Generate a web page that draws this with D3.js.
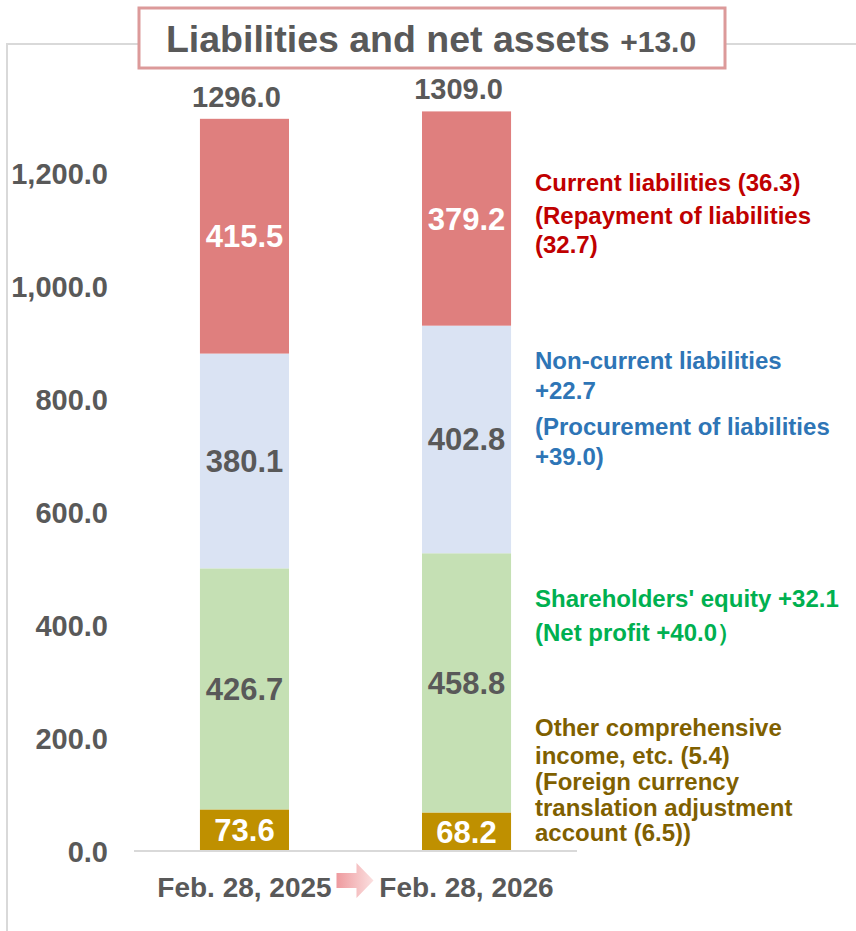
<!DOCTYPE html>
<html>
<head>
<meta charset="utf-8">
<script src="https://cdn.jsdelivr.net/npm/d3@7"></script>
<style>
  html, body { margin: 0; padding: 0; background: #ffffff; }
  svg text { font-family: "Liberation Sans", Arial, sans-serif; font-weight: bold; }
</style>
</head>
<body>
<svg id="chart" width="856" height="931"></svg>
<script>
// ---------------- data ----------------
const categories = ["Feb. 28, 2025", "Feb. 28, 2026"];
const seriesNames = ["Other comprehensive income", "Shareholders' equity", "Non-current liabilities", "Current liabilities"];
const otherCompIncome = [73.6, 68.2];
const shareholdersEquity = [426.7, 458.8];
const nonCurrentLiabilities = [380.1, 402.8];
const currentLiabilities = [415.5, 379.2];
const totals = [1296.0, 1309.0];
const yTicks = [0, 200, 400, 600, 800, 1000, 1200];
const titleMain = "Liabilities and net assets ";
const titleDelta = "+13.0";
const noteCurrent = ["Current liabilities (36.3)", "(Repayment of liabilities", "(32.7)"];
const noteNonCurrent = ["Non-current liabilities", "+22.7", "(Procurement of liabilities", "+39.0)"];
const noteEquity = ["Shareholders' equity +32.1", "(Net profit +40.0\uFF09"];
const noteOther = ["Other comprehensive", "income, etc. (5.4)", "(Foreign currency", "translation adjustment", "account (6.5))"];

// ---------------- layout / style ----------------
const svg = d3.select("#chart");
const colors = ["#bf9000", "#c5e0b4", "#dae3f3", "#df7f7e"];
const labelColors = ["#ffffff", "#595959", "#595959", "#ffffff"];
const grey = "#595959";

const y = d3.scaleLinear().domain([0, 1300]).range([851, 116.5]);
const x = d3.scaleBand().domain(categories).range([134, 577]).paddingInner(0.599).paddingOuter(0.297);

// outer frame (light grey)
svg.append("path")
  .attr("d", "M7,931 L7,44 L856,44")
  .attr("fill", "none").attr("stroke", "#d9d9d9").attr("stroke-width", 2);

// title box
svg.append("rect")
  .attr("x", 139).attr("y", 8).attr("width", 586).attr("height", 60)
  .attr("fill", "#ffffff").attr("stroke", "#dc9a9a").attr("stroke-width", 3);
const title = svg.append("text")
  .attr("x", 431).attr("y", 52).attr("text-anchor", "middle").attr("fill", grey);
title.append("tspan").attr("font-size", 37.5).text(titleMain);
title.append("tspan").attr("font-size", 30).text(titleDelta);

// stacked data
const rows = categories.map((c, i) => ({
  cat: c,
  [seriesNames[0]]: otherCompIncome[i],
  [seriesNames[1]]: shareholdersEquity[i],
  [seriesNames[2]]: nonCurrentLiabilities[i],
  [seriesNames[3]]: currentLiabilities[i]
}));
const stacked = d3.stack().keys(seriesNames)(rows);

const layers = svg.append("g").selectAll("g").data(stacked).join("g")
  .attr("fill", (d, i) => colors[i]);
layers.selectAll("rect").data(d => d).join("rect")
  .attr("x", d => x(d.data.cat))
  .attr("width", x.bandwidth())
  .attr("y", d => y(d[1]))
  .attr("height", d => y(d[0]) - y(d[1]));

// segment labels
stacked.forEach((layer, li) => {
  svg.append("g").selectAll("text").data(layer).join("text")
    .attr("x", d => x(d.data.cat) + x.bandwidth() / 2)
    .attr("y", d => (y(d[0]) + y(d[1])) / 2 + 11)
    .attr("text-anchor", "middle")
    .attr("font-size", 31)
    .attr("fill", labelColors[li])
    .text(d => d3.format(".1f")(d.data[layer.key]));
});

// totals
svg.append("g").selectAll("text").data(categories).join("text")
  .attr("x", d => x(d) + x.bandwidth() / 2 - 8)
  .attr("y", (d, i) => y(totals[i]) - 12)
  .attr("text-anchor", "middle")
  .attr("font-size", 29)
  .attr("fill", grey)
  .text((d, i) => d3.format(".1f")(totals[i]));

// y axis labels
const yAxis = d3.axisLeft(y).tickValues(yTicks).tickFormat(d3.format(",.1f")).tickSize(0).tickPadding(0);
const gy = svg.append("g").attr("transform", "translate(108,0)").call(yAxis);
gy.select(".domain").remove();
gy.selectAll("text")
  .attr("font-size", 29)
  .attr("font-family", "'Liberation Sans', Arial, sans-serif")
  .attr("font-weight", "bold")
  .attr("fill", grey)
  .attr("dy", "0.36em");

// x axis
const xAxis = d3.axisBottom(x).tickSize(0).tickPadding(0);
const gx = svg.append("g").attr("transform", `translate(0,${y(0)})`).call(xAxis);
gx.select(".domain").attr("stroke", "#d9d9d9").attr("stroke-width", 2)
  .attr("d", `M134,0H577`);
gx.selectAll("text")
  .attr("font-size", 28)
  .attr("font-family", "'Liberation Sans', Arial, sans-serif")
  .attr("font-weight", "bold")
  .attr("fill", grey)
  .attr("dy", null)
  .attr("y", 46);

// arrow between categories
const defs = svg.append("defs");
const grad = defs.append("linearGradient").attr("id", "arrowGrad")
  .attr("x1", "0%").attr("x2", "100%").attr("y1", "0%").attr("y2", "0%");
grad.append("stop").attr("offset", "0%").attr("stop-color", "#ee9a9e");
grad.append("stop").attr("offset", "100%").attr("stop-color", "#fbe0e0");
const ax = (x(categories[0]) + x.bandwidth() + x(categories[1])) / 2;
svg.append("path")
  .attr("d", `M${ax - 19},873 H${ax + 1} V863 L${ax + 18},880.5 L${ax + 1},898 V888 H${ax - 19} Z`)
  .attr("fill", "url(#arrowGrad)");

// annotations
const noteX = 535;
const notes = [
  { lines: noteCurrent, color: "#c00000", ys: [191, 224, 253] },
  { lines: noteNonCurrent, color: "#2e75b6", ys: [369, 399, 435, 465] },
  { lines: noteEquity, color: "#00b050", ys: [607, 641] },
  { lines: noteOther, color: "#7f6000", ys: [736, 764, 790, 816, 841] }
];
notes.forEach(n => {
  svg.append("g").selectAll("text").data(n.lines).join("text")
    .attr("x", noteX)
    .attr("y", (d, i) => n.ys[i])
    .attr("font-size", 24)
    .attr("fill", n.color)
    .text(d => d);
});
</script>
</body>
</html>
